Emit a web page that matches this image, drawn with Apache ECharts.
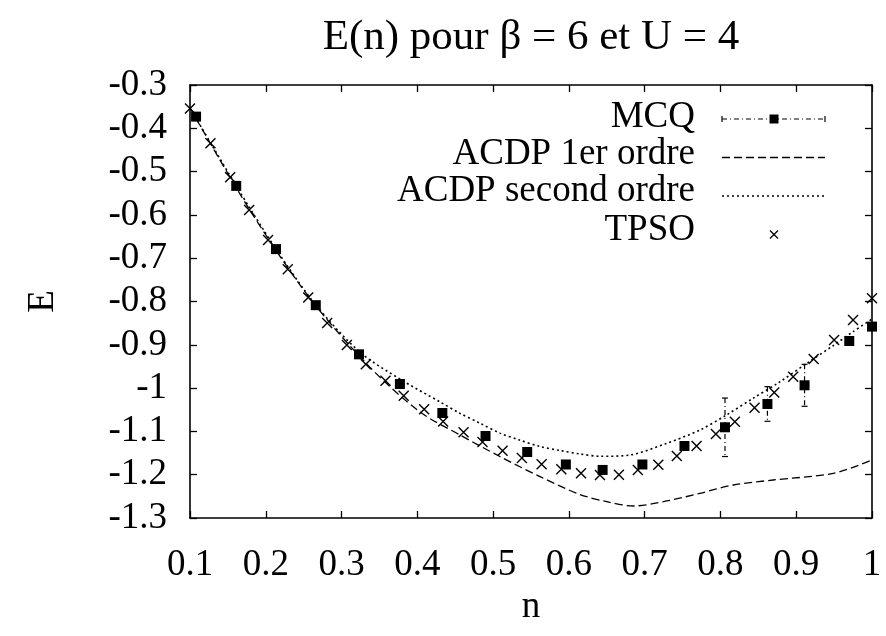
<!DOCTYPE html>
<html>
<head>
<meta charset="utf-8">
<script src="https://cdn.jsdelivr.net/npm/echarts@6/dist/echarts.min.js"></script>
<style>
html,body{margin:0;padding:0;background:#fff;}
#chart{width:886px;height:636px;}
</style>
</head>
<body>
<div id="chart"></div>
<script>
// ---- data ----
const titleText = 'E(n) pour β = 6 et U = 4';
const xName = 'n';
const yName = 'E';
const seriesNames = ['MCQ', 'ACDP 1er ordre', 'ACDP second ordre', 'TPSO'];

const mcqN   = [0.108, 0.161, 0.2135, 0.266, 0.323, 0.377, 0.433, 0.490, 0.545, 0.596, 0.6445, 0.697, 0.7525, 0.806, 0.862, 0.911, 0.970, 1.0];
const mcqE   = [-0.373, -0.533, -0.679, -0.8085, -0.922, -0.9905, -1.0575, -1.1106, -1.1476, -1.1764, -1.189, -1.1764, -1.1337, -1.0905, -1.0367, -0.9935, -0.8912, -0.858];
const mcqErr = [0, 0, 0, 0, 0, 0, 0, 0, 0, 0, 0, 0, 0, 0.0675, 0.040, 0.0485, 0.006, 0];

const acdp1N = [0.1, 0.179, 0.258, 0.337, 0.403, 0.456, 0.509, 0.562, 0.6145, 0.650, 0.685, 0.729, 0.773, 0.817, 0.8695, 0.949, 1.0];
const acdp1E = [-0.353, -0.589, -0.792, -0.951, -1.0545, -1.108, -1.158, -1.2046, -1.2457, -1.2623, -1.2723, -1.2607, -1.243, -1.2238, -1.2122, -1.1968, -1.166];

const acdp2N = [0.1, 0.161, 0.2135, 0.266, 0.324, 0.377, 0.430, 0.456, 0.4826, 0.509, 0.535, 0.562, 0.588, 0.6145, 0.641, 0.6805, 0.729, 0.773, 0.808, 0.843, 0.878, 0.914, 0.949, 0.975, 1.0];
const acdp2E = [-0.353, -0.533, -0.679, -0.808, -0.9166, -0.979, -1.032, -1.058, -1.081, -1.104, -1.12, -1.135, -1.144, -1.152, -1.1575, -1.1545, -1.1275, -1.0968, -1.062, -1.0236, -0.986, -0.9427, -0.9016, -0.8697, -0.8404];

const tpsoN = [0.100, 0.127, 0.153, 0.178, 0.203, 0.229, 0.256, 0.281, 0.307, 0.332, 0.358, 0.382, 0.409, 0.434, 0.461, 0.486, 0.5125, 0.538, 0.564, 0.590, 0.616, 0.641, 0.666, 0.691, 0.718, 0.7425, 0.7685, 0.794, 0.819, 0.845, 0.871, 0.896, 0.923, 0.950, 0.975, 1.0];
const tpsoE = [-0.354, -0.4346, -0.5132, -0.5887, -0.658, -0.7256, -0.7908, -0.8497, -0.9005, -0.945, -0.9831, -1.0178, -1.049, -1.0771, -1.1021, -1.1245, -1.1446, -1.1614, -1.176, -1.1875, -1.1968, -1.2007, -1.2, -1.1891, -1.1769, -1.1568, -1.1337, -1.106, -1.0776, -1.0453, -1.0102, -0.9737, -0.9328, -0.8889, -0.8427, -0.7926];

const xMin = 0.1, xMax = 1.0, xStep = 0.1;
const yMin = -1.3, yMax = -0.3, yStep = 0.1;

// ---- styling ----
const FONT = '"Liberation Serif", "DejaVu Serif", "Times New Roman", serif';
const FS = 37;
const BLACK = '#000';
const crossPath = 'path://M0,0L10,10M10,0L0,10';
const dashA = [8, 4];
const dotA = [2, 3];
const dashDot = [5, 3, 1, 3];

const zip = (a, b) => a.map((v, i) => [v, b[i]]);

const chart = echarts.init(document.getElementById('chart'), null, {renderer: 'canvas'});

const axisCommon = {
  type: 'value',
  axisLine: {show: true, onZero: false, lineStyle: {color: BLACK, width: 1.6}},
  axisTick: {show: true, inside: true, length: 7, lineStyle: {color: BLACK, width: 1.3}},
  splitLine: {show: false},
};

// legend geometry (layout only)
const legRight = 695, sx1 = 722, sx2 = 825, sMid = 774;
const legTextY = [117, 154, 191, 230];
const legSampleY = [119, 157.5, 196, 234.5];

const graphics = [];
seriesNames.forEach((nm, i) => {
  graphics.push({
    type: 'text', x: legRight, y: legTextY[i],
    style: {text: nm, font: FS + 'px ' + FONT, fill: BLACK,
            textAlign: 'right', align: 'right', textVerticalAlign: 'middle', verticalAlign: 'middle'}
  });
});
// MCQ sample
graphics.push({type: 'line', shape: {x1: sx1, y1: legSampleY[0], x2: sx2, y2: legSampleY[0]}, style: {stroke: BLACK, lineWidth: 1.2, lineDash: dashDot}});
graphics.push({type: 'line', shape: {x1: sx1, y1: legSampleY[0] - 3, x2: sx1, y2: legSampleY[0] + 3}, style: {stroke: BLACK, lineWidth: 1.2}});
graphics.push({type: 'line', shape: {x1: sx2, y1: legSampleY[0] - 3, x2: sx2, y2: legSampleY[0] + 3}, style: {stroke: BLACK, lineWidth: 1.2}});
graphics.push({type: 'rect', shape: {x: sMid - 4.5, y: legSampleY[0] - 4.5, width: 9, height: 9}, style: {fill: BLACK}});
// ACDP 1er
graphics.push({type: 'line', shape: {x1: sx1, y1: legSampleY[1], x2: sx2, y2: legSampleY[1]}, style: {stroke: BLACK, lineWidth: 1.3, lineDash: dashA}});
// ACDP second
graphics.push({type: 'line', shape: {x1: sx1, y1: legSampleY[2], x2: sx2, y2: legSampleY[2]}, style: {stroke: BLACK, lineWidth: 1.6, lineDash: dotA}});
// TPSO
graphics.push({type: 'line', shape: {x1: sMid - 4, y1: legSampleY[3] - 4, x2: sMid + 4, y2: legSampleY[3] + 4}, style: {stroke: BLACK, lineWidth: 1.3}});
graphics.push({type: 'line', shape: {x1: sMid + 4, y1: legSampleY[3] - 4, x2: sMid - 4, y2: legSampleY[3] + 4}, style: {stroke: BLACK, lineWidth: 1.3}});

const option = {
  backgroundColor: '#fff',
  animation: false,
  title: {
    text: titleText, left: 531, top: 16, textAlign: 'center', padding: 0,
    textStyle: {fontFamily: FONT, fontSize: 43, fontWeight: 'normal', color: BLACK}
  },
  grid: {left: 190, right: 14, top: 85, bottom: 118, containLabel: false},
  xAxis: [
    Object.assign({}, axisCommon, {
      position: 'bottom', min: xMin, max: xMax, interval: xStep,
      axisLabel: {show: true, color: BLACK, fontFamily: FONT, fontSize: FS, margin: 29, showMinLabel: true, showMaxLabel: true},
      name: xName, nameLocation: 'middle', nameGap: 69,
      nameTextStyle: {color: BLACK, fontFamily: FONT, fontSize: FS}
    }),
    Object.assign({}, axisCommon, {
      position: 'top', min: xMin, max: xMax, interval: xStep, axisLabel: {show: false}
    })
  ],
  yAxis: [
    Object.assign({}, axisCommon, {
      position: 'left', min: yMin, max: yMax, interval: yStep,
      axisLabel: {show: true, color: BLACK, fontFamily: FONT, fontSize: FS, margin: 23, showMinLabel: true, showMaxLabel: true},
      name: yName, nameLocation: 'middle', nameGap: 128, nameRotate: 90,
      nameTextStyle: {color: BLACK, fontFamily: FONT, fontSize: FS}
    }),
    Object.assign({}, axisCommon, {
      position: 'right', min: yMin, max: yMax, interval: yStep, axisLabel: {show: false}
    })
  ],
  graphic: graphics,
  series: [
    {
      name: seriesNames[1], type: 'line', data: zip(acdp1N, acdp1E), smooth: 0.3,
      showSymbol: false, symbol: 'none', silent: true,
      lineStyle: {color: BLACK, width: 1.3, type: dashA}
    },
    {
      name: seriesNames[2], type: 'line', data: zip(acdp2N, acdp2E), smooth: 0.3,
      showSymbol: false, symbol: 'none', silent: true,
      lineStyle: {color: BLACK, width: 1.6, type: dotA}
    },
    {
      name: seriesNames[0] + ' err', type: 'custom', silent: true,
      data: mcqN.map((n, i) => [n, mcqE[i], mcqErr[i]]),
      renderItem: function (params, api) {
        const x = api.value(0), y = api.value(1), e = api.value(2);
        if (!e) return null;
        const top = api.coord([x, y + e]);
        const bot = api.coord([x, y - e]);
        const st = {stroke: BLACK, lineWidth: 1.2};
        return {
          type: 'group',
          children: [
            {type: 'line', shape: {x1: top[0], y1: top[1], x2: bot[0], y2: bot[1]}, style: Object.assign({lineDash: dashDot}, st)},
            {type: 'line', shape: {x1: top[0] - 3, y1: top[1], x2: top[0] + 3, y2: top[1]}, style: st},
            {type: 'line', shape: {x1: bot[0] - 3, y1: bot[1], x2: bot[0] + 3, y2: bot[1]}, style: st}
          ]
        };
      },
      z: 3
    },
    {
      name: seriesNames[0], type: 'scatter', data: zip(mcqN, mcqE),
      symbol: 'rect', symbolSize: 10, silent: true,
      itemStyle: {color: BLACK, opacity: 1}, z: 4
    },
    {
      name: seriesNames[3], type: 'scatter', data: zip(tpsoN, tpsoE),
      symbol: crossPath, symbolSize: 10, silent: true,
      itemStyle: {color: BLACK, borderColor: BLACK, borderWidth: 1.4, opacity: 1}, z: 4
    }
  ]
};
chart.setOption(option);
</script>
</body>
</html>
